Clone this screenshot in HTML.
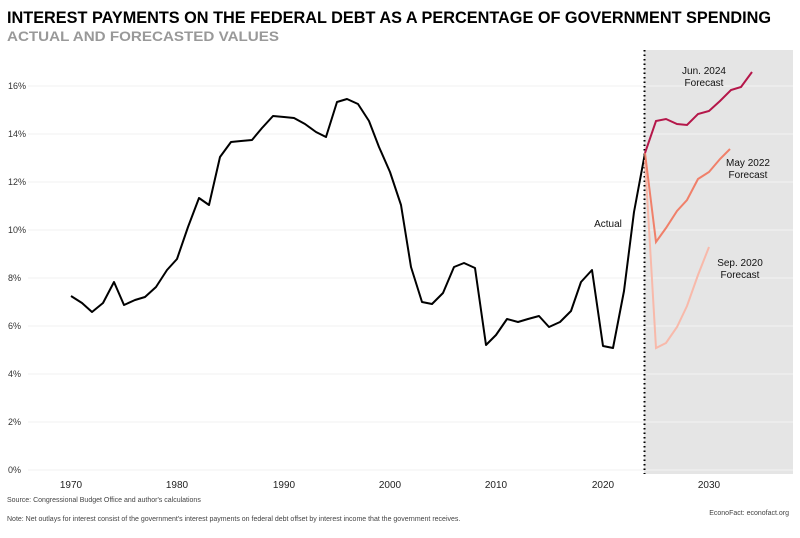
<!DOCTYPE html>
<html><head><meta charset="utf-8"><style>
body{margin:0;background:#fff;width:800px;height:533px;overflow:hidden;font-family:"Liberation Sans",sans-serif}
</style></head><body>
<svg width="800" height="533" xmlns="http://www.w3.org/2000/svg" font-family="Liberation Sans, sans-serif">
<rect x="644" y="50" width="149" height="424" fill="#e5e5e5"/>
<g stroke="#f2f2f2" stroke-width="1">
<line x1="28" x2="793" y1="470" y2="470"/><line x1="28" x2="793" y1="422" y2="422"/>
<line x1="28" x2="793" y1="374" y2="374"/><line x1="28" x2="793" y1="326" y2="326"/>
<line x1="28" x2="793" y1="278" y2="278"/><line x1="28" x2="793" y1="230" y2="230"/>
<line x1="28" x2="793" y1="182" y2="182"/><line x1="28" x2="793" y1="134" y2="134"/>
<line x1="28" x2="793" y1="86" y2="86"/>
</g>
<text x="7" y="23" font-size="17" font-weight="bold" fill="#000" textLength="764" lengthAdjust="spacingAndGlyphs">INTEREST PAYMENTS ON THE FEDERAL DEBT AS A PERCENTAGE OF GOVERNMENT SPENDING</text>
<text x="7" y="41" font-size="14" font-weight="bold" fill="#999" textLength="272" lengthAdjust="spacingAndGlyphs">ACTUAL AND FORECASTED VALUES</text>
<g font-size="9" fill="#333" text-anchor="start">
<text x="8" y="473">0%</text><text x="8" y="425">2%</text><text x="8" y="377">4%</text><text x="8" y="329">6%</text><text x="8" y="281">8%</text><text x="8" y="233">10%</text><text x="8" y="185">12%</text><text x="8" y="137">14%</text><text x="8" y="89">16%</text>
</g>
<g font-size="10" fill="#222" text-anchor="middle">
<text x="71" y="488">1970</text><text x="177" y="488">1980</text><text x="284" y="488">1990</text><text x="390" y="488">2000</text><text x="496" y="488">2010</text><text x="603" y="488">2020</text><text x="709" y="488">2030</text>
</g>
<line x1="644.5" x2="644.5" y1="50" y2="474" stroke="#000" stroke-width="2" stroke-dasharray="1.5,3"/>
<polyline fill="none" stroke="#000" stroke-width="2" stroke-linejoin="round" points="71,296 82,303 92,312 103,303 114,282 124,305 135,300 145,297 156,287 167,270 177,259 188,227 199,198 209,205 220,157 231,142 241,141 252,140 262,128 273,116 284,117 294,118 305,124 316,132 326,137 337,102 347,99 358,104 369,121 379,147 390,172 401,205 411,267 422,302 432,304 443,293 454,267 464,263 475,268 486,345 496,335 507,319 518,322 528,319 539,316 549,327 560,322 571,311 581,282 592,270 603,346 613,348 624,291 634,212 645,153"/>
<polyline fill="none" stroke="#f8b9aa" stroke-width="2" points="645,160 656,348 666,343 677,327 687,306 698,275 709,247"/>
<polyline fill="none" stroke="#f0806a" stroke-width="2" points="645,153 656,242 666,228 677,211 687,200 698,179 709,172 720,159 730,149"/>
<polyline fill="none" stroke="#b5174a" stroke-width="2" points="645,153 656,121 666,119 677,124 687,125 698,114 709,111 720,101 731,90 741,87 752,72"/>
<g font-size="10" fill="#111" text-anchor="middle">
<text x="608" y="227">Actual</text>
<text x="704" y="74">Jun. 2024</text><text x="704" y="86">Forecast</text>
<text x="748" y="166">May 2022</text><text x="748" y="178">Forecast</text>
<text x="740" y="266">Sep. 2020</text><text x="740" y="278">Forecast</text>
</g>
<text x="7" y="502" font-size="7" fill="#444">Source: Congressional Budget Office and author's calculations</text>
<text x="7" y="521" font-size="7" fill="#444">Note: Net outlays for interest consist of the government's interest payments on federal debt offset by interest income that the government receives.</text>
<text x="789" y="515" font-size="7" fill="#444" text-anchor="end">EconoFact: econofact.org</text>
</svg>
</body></html>
